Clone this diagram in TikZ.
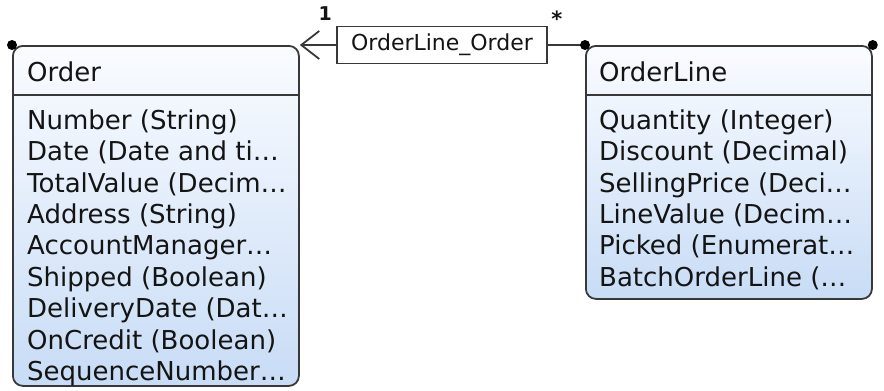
\documentclass[tikz,border=0pt]{standalone}
\usepackage{fontspec}
\setmainfont{DejaVu Sans}
\usetikzlibrary{arrows.meta,positioning}
\definecolor{boxline}{HTML}{383838}
\definecolor{boxtop}{HTML}{FAFCFF}
\definecolor{boxbottom}{HTML}{C8DCF6}
\definecolor{txt}{HTML}{141414}
\tikzstyle{classbox} = [draw=boxline, line width=1.8pt, rounded corners=10pt,
    top color=boxtop, bottom color=boxbottom, minimum width=286pt,
    anchor=north west, inner sep=0pt]
\tikzstyle{title} = [anchor=base west, inner sep=0pt, text=txt,
    font=\fontsize{26}{31}\selectfont]
\tikzstyle{attr} = [anchor=north west, inner xsep=0pt, inner ysep=3pt,
    text height=19pt, text depth=6pt, text=txt, font=\fontsize{26}{31}\selectfont]
\tikzstyle{assoc} = [draw=boxline, fill=white, line width=1.6pt, minimum width=210pt,
    minimum height=37pt, inner sep=0pt, text=txt, font=\fontsize{22}{26}\selectfont]
\tikzstyle{mult} = [inner sep=0pt, text=txt, font=\bfseries\fontsize{19}{22}\selectfont]
\tikzstyle{link} = [draw=boxline, line width=1.8pt]

\begin{document}
\begin{tikzpicture}[x=1pt, y=1pt]
    \useasboundingbox (0,0) rectangle (884,-391);
    \node [classbox, minimum height=340pt] (order) at (12,-45) {};
    \node [classbox, minimum height=253pt] (orderline) at (585,-45) {};
    \draw [link] ([yshift=-50pt]order.north west) -- ([yshift=-50pt]order.north east);
    \draw [link] ([yshift=-50pt]orderline.north west) -- ([yshift=-50pt]orderline.north east);
    \node [title] (ordertitle) at ([xshift=15pt,yshift=-36pt]order.north west) {Order};
    \node [title] (orderlinetitle) at ([xshift=14pt,yshift=-36pt]orderline.north west) {OrderLine};
    \node [attr] (number) at ([xshift=15pt,yshift=-62pt]order.north west) {Number (String)};
    \node [attr] (date) at (number.south west) {Date (Date and ti…};
    \node [attr] (totalvalue) at (date.south west) {TotalValue (Decim…};
    \node [attr] (address) at (totalvalue.south west) {Address (String)};
    \node [attr] (accountmgr) at (address.south west) {AccountManager…};
    \node [attr] (shipped) at (accountmgr.south west) {Shipped (Boolean)};
    \node [attr] (deliverydate) at (shipped.south west) {DeliveryDate (Dat…};
    \node [attr] (oncredit) at (deliverydate.south west) {OnCredit (Boolean)};
    \node [attr] (seqnumber) at (oncredit.south west) {SequenceNumber…};
    \node [attr] (quantity) at ([xshift=14pt,yshift=-62pt]orderline.north west) {Quantity (Integer)};
    \node [attr] (discount) at (quantity.south west) {Discount (Decimal)};
    \node [attr] (sellingprice) at (discount.south west) {SellingPrice (Deci…};
    \node [attr] (linevalue) at (sellingprice.south west) {LineValue (Decim…};
    \node [attr] (picked) at (linevalue.south west) {Picked (Enumerat…};
    \node [attr] (batchline) at (picked.south west) {BatchOrderLine (…};
    \node [assoc] (orderlineorder) at (442,-45) {OrderLine\_Order};
    \node [mult] (multone) at ([xshift=-11pt,yshift=12.5pt]orderlineorder.north west) {1};
    \node [mult, font=\bfseries\fontsize{21}{24}\selectfont] (multmany) at ([xshift=9pt,yshift=7pt]orderlineorder.north east) {*};
    \draw [link,-{Straight Barb[length=18pt,width=28pt]}] (orderlineorder) -- (order.north east);
    \draw [link] (orderlineorder) -- (orderline.north west);
    \fill [black] (order.north west) circle (5pt);
    \fill [black] (orderline.north west) circle (5pt);
    \fill [black] (orderline.north east) circle (5pt);
\end{tikzpicture}
\end{document}
